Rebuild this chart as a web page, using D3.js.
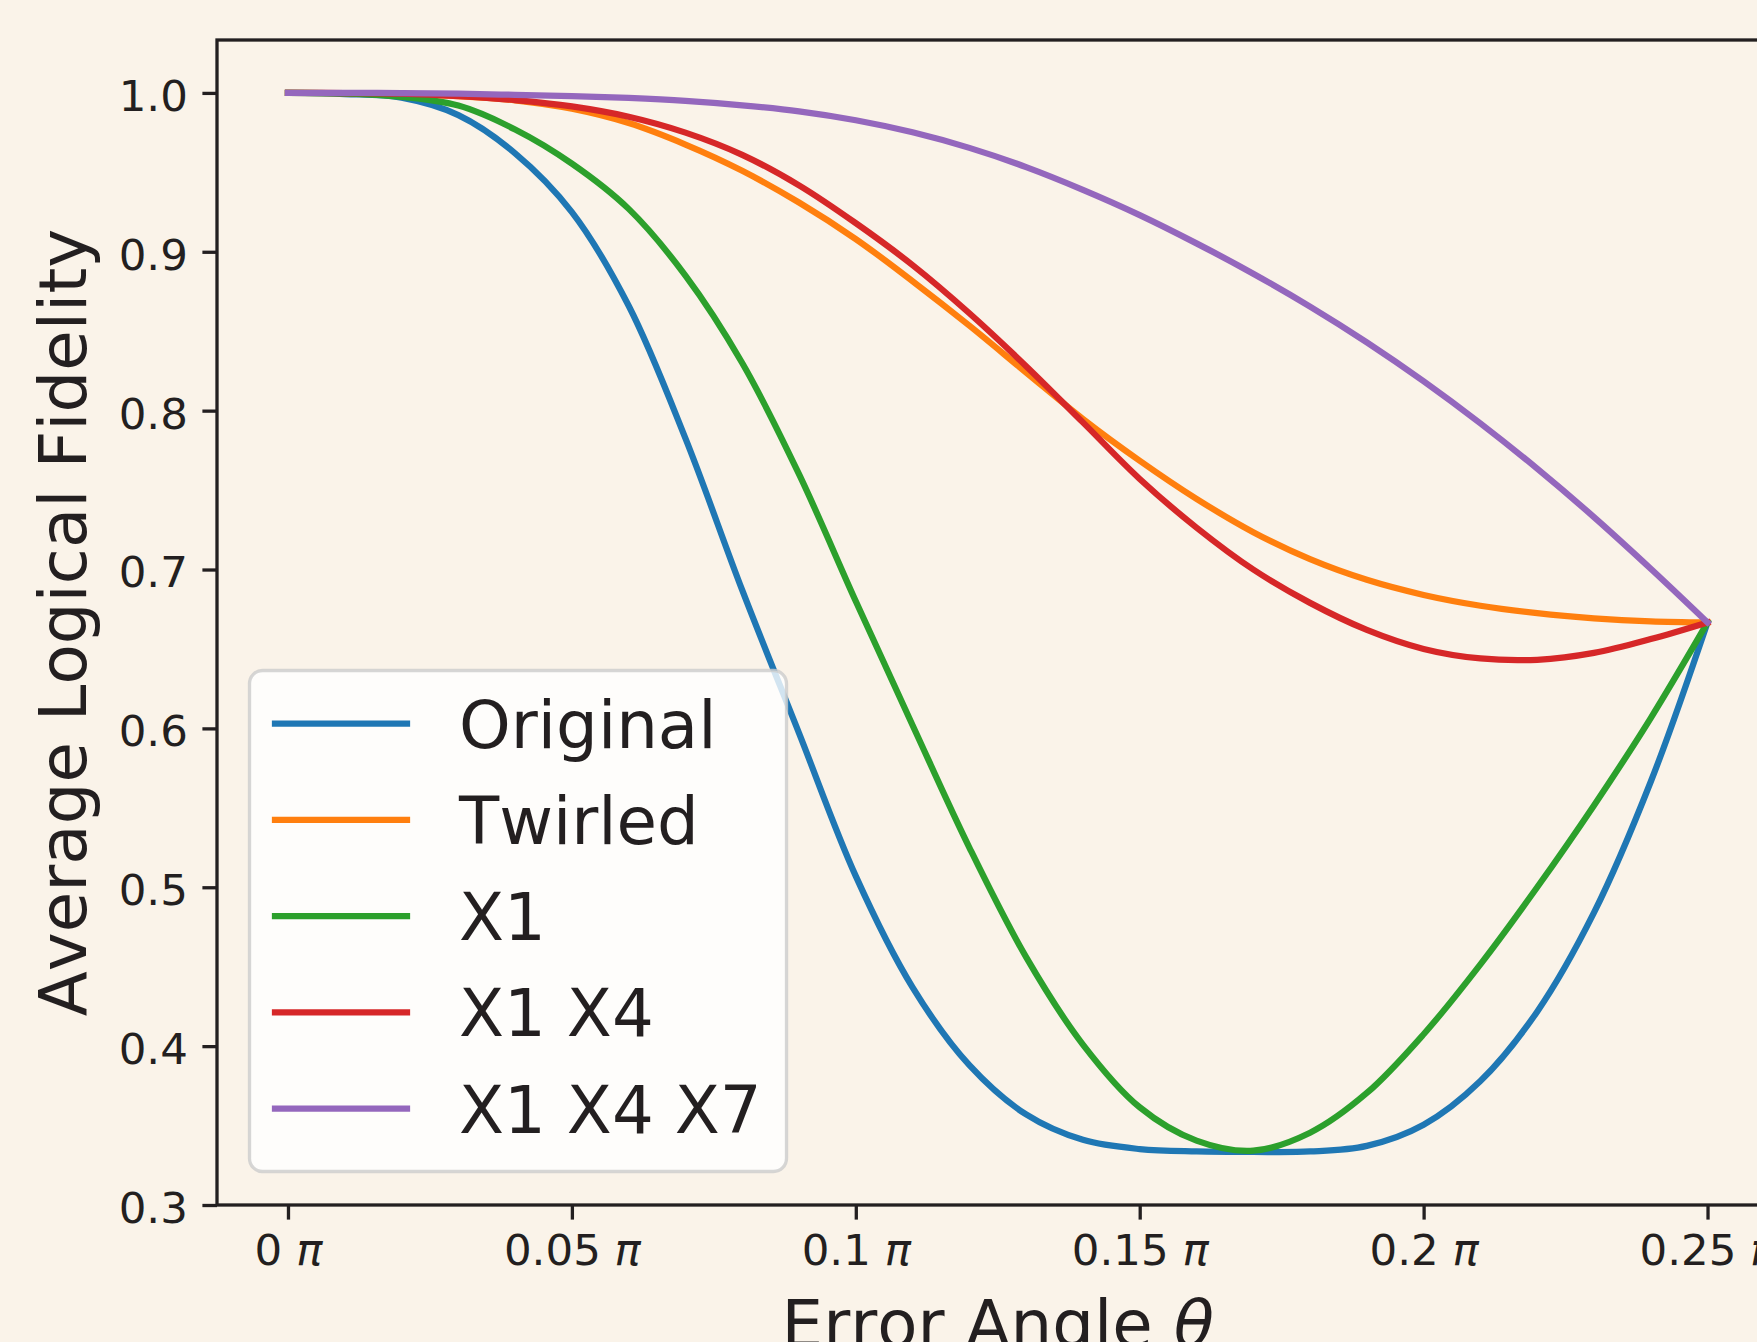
<!DOCTYPE html>
<html>
<head>
<meta charset="utf-8">
<script src="https://cdn.jsdelivr.net/npm/d3@7"></script>
<style>
  body { margin: 0; background: #faf3e9; }
  svg { display: block; font-family: "DejaVu Sans", sans-serif; font-kerning: none; }
</style>
</head>
<body>
<div class="chart"></div>
<script>
// error angle, in units of pi
const theta = [0, 0.01, 0.02, 0.03, 0.04, 0.05, 0.06, 0.07, 0.08, 0.09, 0.10, 0.11, 0.12,
               0.13, 0.14, 0.15, 0.16, 0.17, 0.18, 0.19, 0.20, 0.21, 0.22, 0.23, 0.24, 0.25];

const original = [1.0, 0.9993, 0.997, 0.986, 0.962, 0.925, 0.866, 0.7825, 0.687, 0.597, 0.507, 0.437, 0.388,
                  0.357, 0.341, 0.3352, 0.3337, 0.3334, 0.3337, 0.3372, 0.3505, 0.378, 0.4217, 0.484, 0.5664, 0.6667];
const twirled = [1.0, 0.9998, 0.9993, 0.998, 0.9953, 0.990, 0.981, 0.9675, 0.951, 0.931, 0.908, 0.8815, 0.8535,
                 0.824, 0.7948, 0.7685, 0.7445, 0.7235, 0.7065, 0.6935, 0.684, 0.6772, 0.6725, 0.6693, 0.6674, 0.6667];
const x1 = [1.0, 0.9997, 0.9975, 0.992, 0.977, 0.9555, 0.927, 0.885, 0.830, 0.760, 0.680, 0.602, 0.525,
            0.456, 0.401, 0.3615, 0.3405, 0.3342, 0.3455, 0.3705, 0.4075, 0.4515, 0.500, 0.5515, 0.6065, 0.6667];
const x1x4 = [1.0, 0.9999, 0.9995, 0.998, 0.9955, 0.9915, 0.985, 0.975, 0.961, 0.9418, 0.918, 0.8916, 0.8613,
              0.828, 0.7926, 0.757, 0.7264, 0.700, 0.679, 0.662, 0.650, 0.644, 0.6432, 0.6475, 0.6562, 0.6667];
const x1x4x7 = [1.0, 1.0, 0.9999, 0.9995, 0.9988, 0.998, 0.9968, 0.995, 0.9922, 0.9884, 0.9828, 0.9752, 0.9654,
                0.9533, 0.939, 0.9231, 0.9053, 0.8862, 0.8655, 0.843, 0.8185, 0.792, 0.7635, 0.733, 0.7005, 0.6667];

const seriesNames = ["Original", "Twirled", "X1", "X1 X4", "X1 X4 X7"];
const seriesValues = [original, twirled, x1, x1x4, x1x4x7];
const seriesColors = ["#1f77b4", "#ff7f0e", "#2ca02c", "#d62728", "#9467bd"];

const xTicks = [0, 0.05, 0.1, 0.15, 0.2, 0.25];
const xTickLabels = ["0", "0.05", "0.1", "0.15", "0.2", "0.25"];
const yTicks = [0.3, 0.4, 0.5, 0.6, 0.7, 0.8, 0.9, 1.0];

const svgWidth = 1757, svgHeight = 1342;
const plotLeft = 217, plotTop = 40, plotRight = 1778.5, plotBottom = 1205;
const ink = "#231f20";
const lw = 3.3, tickLen = 14.6, tickPad = 14.6;
const tickFont = "43.5px", labelFont = "65.8px";

const svg = d3.select(".chart").append("svg")
    .attr("width", svgWidth)
    .attr("height", svgHeight);

svg.append("rect")
    .attr("width", svgWidth).attr("height", svgHeight)
    .attr("fill", "#faf3e9");

const x = d3.scaleLinear().domain([-0.0125, 0.2625]).range([plotLeft, plotRight]);
const y = d3.scaleLinear().domain([0.3, 1.0333]).range([plotBottom, plotTop]);

// curves
const line = d3.line()
    .x(function (d, i) { return x(theta[i]); })
    .y(function (d) { return y(d); })
    .curve(d3.curveCatmullRom.alpha(0.5));

svg.append("g").selectAll("path")
    .data(seriesValues)
    .enter().append("path")
    .attr("d", line)
    .attr("fill", "none")
    .attr("stroke", function (d, i) { return seriesColors[i]; })
    .attr("stroke-width", 6.25)
    .attr("stroke-linecap", "square")
    .attr("stroke-linejoin", "round");

// frame
svg.append("rect")
    .attr("x", plotLeft).attr("y", plotTop)
    .attr("width", plotRight - plotLeft).attr("height", plotBottom - plotTop)
    .attr("fill", "none")
    .attr("stroke", ink)
    .attr("stroke-width", lw);

// x axis
const xAxis = svg.append("g")
    .attr("transform", "translate(0," + plotBottom + ")")
    .call(d3.axisBottom(x).tickValues(xTicks).tickSize(tickLen).tickSizeOuter(0).tickPadding(tickPad));
xAxis.select(".domain").remove();
xAxis.selectAll(".tick line").attr("stroke", ink).attr("stroke-width", lw);
xAxis.selectAll(".tick text")
    .attr("fill", ink)
    .style("font-size", tickFont)
    .style("font-family", "DejaVu Sans")
    .each(function (d, i) {
        const t = d3.select(this).text(null);
        t.append("tspan").text(xTickLabels[i] + " ");
        t.append("tspan").style("font-style", "italic").text("π");
    });

// y axis
const yAxis = svg.append("g")
    .attr("transform", "translate(" + plotLeft + ",0)")
    .call(d3.axisLeft(y).tickValues(yTicks).tickSize(tickLen).tickSizeOuter(0).tickPadding(tickPad)
        .tickFormat(d3.format(".1f")));
yAxis.select(".domain").remove();
yAxis.selectAll(".tick line").attr("stroke", ink).attr("stroke-width", lw);
yAxis.selectAll(".tick text")
    .attr("fill", ink)
    .attr("dy", "0.4em")
    .style("font-size", tickFont)
    .style("font-family", "DejaVu Sans");

// axis labels
svg.append("text")
    .attr("transform", "translate(86," + (plotTop + plotBottom) / 2 + ") rotate(-90)")
    .attr("text-anchor", "middle")
    .attr("fill", ink)
    .style("font-size", labelFont)
    .text("Average Logical Fidelity");

const xLabel = svg.append("text")
    .attr("x", (plotLeft + plotRight) / 2)
    .attr("y", 1347)
    .attr("text-anchor", "middle")
    .attr("fill", ink)
    .style("font-size", labelFont);
xLabel.append("tspan").text("Error Angle ");
xLabel.append("tspan").style("font-style", "italic").text("θ");

// legend
const legend = svg.append("g");
legend.append("rect")
    .attr("x", 249.5).attr("y", 670.5)
    .attr("width", 537).attr("height", 501)
    .attr("rx", 13).attr("ry", 13)
    .attr("fill", "#ffffff").attr("fill-opacity", 0.8)
    .attr("stroke", "#cccccc").attr("stroke-opacity", 0.8)
    .attr("stroke-width", lw);

const legendRow = legend.selectAll("g.row")
    .data(seriesNames)
    .enter().append("g")
    .attr("class", "row")
    .attr("transform", function (d, i) {
        return "translate(0," + (723.5 + 96.3 * i) + ")";
    });
legendRow.append("line")
    .attr("x1", 275).attr("x2", 407)
    .attr("stroke", function (d, i) { return seriesColors[i]; })
    .attr("stroke-width", 6.25)
    .attr("stroke-linecap", "square");
legendRow.append("text")
    .attr("x", 459)
    .attr("y", 24)
    .attr("fill", ink)
    .style("font-size", labelFont)
    .text(function (d) { return d; });
</script>
</body>
</html>
